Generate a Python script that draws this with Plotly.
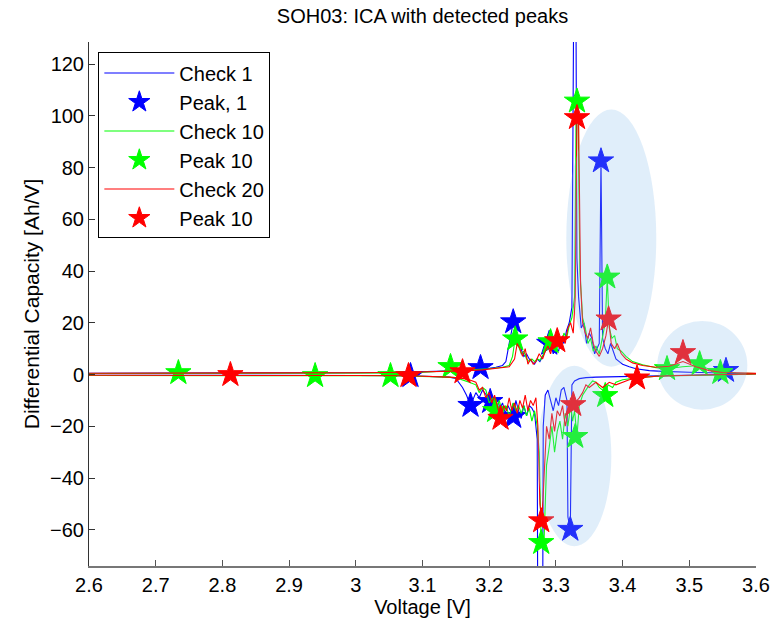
import plotly.graph_objects as go

# ---------------- data ----------------
check1_charge = [(2.60,0.5),(2.70,0.5),(2.80,0.5),(2.90,0.6),(3.00,0.7),(3.05,0.8),(3.08,0.9),(3.10,1.0),(3.12,1.2),(3.14,1.4),(3.16,1.6),(3.18,1.9),(3.19,2.1),(3.20,2.4),(3.21,2.8),(3.22,3.5),(3.225,5),(3.23,12),(3.236,20),(3.242,14),(3.248,10),(3.252,7),(3.256,8),(3.26,6),(3.264,5),(3.268,4),(3.272,6),(3.276,5),(3.28,7),(3.284,9),(3.288,11),(3.292,12),(3.296,8),(3.30,10),(3.304,9),(3.308,14),(3.312,12),(3.316,17),(3.32,20),(3.324,26),(3.3275,180),(3.3295,180),(3.3315,45),(3.334,30),(3.338,18),(3.342,20),(3.346,12),(3.35,16),(3.354,14),(3.358,8),(3.362,10),(3.365,12),(3.3676,83),(3.370,14),(3.374,10),(3.378,8),(3.382,12),(3.386,9),(3.39,6),(3.395,5),(3.40,4),(3.41,3),(3.42,2.2),(3.44,1.5),(3.46,1.2),(3.50,0.9),(3.55,0.6),(3.60,0.5)]
check1_discharge = [(3.60,0.3),(3.55,0.0),(3.50,-0.2),(3.45,-0.4),(3.42,-0.5),(3.40,-0.6),(3.38,-0.8),(3.36,-1.0),(3.345,-1.2),(3.335,-1.6),(3.328,-2.5),(3.324,-4),(3.3216,-60),(3.318,-55),(3.3166,-10),(3.312,-5),(3.308,-6),(3.304,-12),(3.30,-9),(3.296,-14),(3.292,-10),(3.288,-6),(3.284,-8),(3.281,-20),(3.279,-200),(3.274,-200),(3.272,-25),(3.268,-15),(3.264,-13),(3.26,-12),(3.256,-16),(3.252,-12),(3.248,-17),(3.244,-14),(3.24,-10),(3.236,-16),(3.232,-14),(3.228,-12),(3.224,-15),(3.22,-11),(3.216,-13),(3.212,-9),(3.208,-11),(3.2015,-10.5),(3.196,-8),(3.19,-6),(3.185,-9),(3.18,-7),(3.172,-12),(3.166,-8),(3.16,-5),(3.155,-3),(3.15,-1.5),(3.14,-1.0),(3.12,-0.8),(3.10,-0.6),(3.08,-0.5),(3.00,-0.4),(2.90,-0.3),(2.80,-0.3),(2.70,-0.3),(2.60,-0.3)]

check10_charge = [(2.60,0.4),(2.70,0.4),(2.735,0.6),(2.80,0.5),(2.90,0.5),(2.94,0.4),(3.00,0.5),(3.05,0.6),(3.10,0.9),(3.14,1.4),(3.18,1.8),(3.20,2.2),(3.22,2.8),(3.23,3.5),(3.235,7),(3.239,14),(3.244,11),(3.248,8),(3.252,9),(3.256,6),(3.26,5),(3.264,6),(3.268,5),(3.272,6),(3.276,5.5),(3.28,7),(3.284,9),(3.288,11),(3.292,12.6),(3.296,10),(3.30,9),(3.304,12),(3.308,11),(3.312,16),(3.316,14),(3.32,19),(3.324,22),(3.328,30),(3.3305,105.6),(3.333,105),(3.336,40),(3.34,22),(3.344,18),(3.348,12),(3.352,14),(3.356,9),(3.36,11),(3.365,8),(3.37,14),(3.374,20),(3.377,37.6),(3.38,18),(3.384,14),(3.388,15),(3.392,10),(3.398,9),(3.405,7),(3.415,5),(3.43,3.8),(3.45,2.6),(3.4666,2.2),(3.49,3),(3.5155,3.5),(3.53,2),(3.5466,1.0),(3.57,0.6),(3.60,0.4)]
check10_discharge = [(3.60,0.2),(3.55,-0.2),(3.50,-0.4),(3.46,-0.6),(3.43,-1.0),(3.41,-1.5),(3.40,-2),(3.39,-3),(3.385,-5),(3.378,-4),(3.374,-8.2),(3.37,-6),(3.365,-5),(3.36,-3),(3.355,-2.5),(3.35,-4),(3.345,-6),(3.34,-8),(3.335,-12),(3.3316,-24),(3.328,-14),(3.325,-18),(3.322,-12),(3.318,-20),(3.314,-15),(3.31,-25),(3.306,-18),(3.302,-22),(3.298,-30),(3.294,-20),(3.29,-28),(3.286,-35),(3.282,-66),(3.278,-66),(3.275,-30),(3.272,-20),(3.268,-14),(3.264,-18),(3.26,-13),(3.256,-16),(3.252,-12),(3.248,-15),(3.244,-12),(3.24,-14),(3.236,-11),(3.23,-16),(3.225,-12),(3.22,-15),(3.215,-10),(3.21,-14),(3.205,-9),(3.2,-11),(3.195,-6),(3.19,-5),(3.185,-7),(3.18,-4),(3.17,-3),(3.16,-2),(3.15,-1.2),(3.13,-0.9),(3.10,-0.7),(3.052,-0.5),(3.00,-0.5),(2.939,-0.5),(2.85,-0.4),(2.75,-0.4),(2.60,-0.4)]

check20_charge = [(2.60,0.5),(2.70,0.5),(2.80,0.5),(2.90,0.6),(3.00,0.7),(3.08,0.9),(3.12,1.1),(3.16,1.4),(3.19,1.8),(3.21,2.3),(3.23,3),(3.238,6),(3.242,12),(3.246,10),(3.25,7),(3.254,10),(3.258,4),(3.262,6),(3.266,4),(3.27,5),(3.275,8),(3.28,6),(3.284,9),(3.288,11),(3.292,8),(3.296,12),(3.302,13),(3.306,10),(3.31,15),(3.314,12),(3.318,18),(3.322,20),(3.326,16),(3.329,30),(3.3316,99.2),(3.334,99),(3.337,35),(3.34,20),(3.344,16),(3.348,14),(3.352,18),(3.356,12),(3.36,9),(3.365,7),(3.37,10),(3.375,15),(3.379,21.4),(3.383,12),(3.388,10),(3.392,12),(3.398,8),(3.405,6),(3.415,4.5),(3.43,3.5),(3.45,2.8),(3.47,3.2),(3.4905,5),(3.51,3),(3.53,1.5),(3.55,0.8),(3.60,0.5)]
check20_discharge = [(3.60,0.2),(3.55,0.0),(3.50,-0.3),(3.45,-0.7),(3.4216,-1.4),(3.41,-2),(3.40,-3),(3.39,-4),(3.38,-3),(3.37,-5),(3.36,-3),(3.35,-5),(3.345,-4),(3.34,-7),(3.335,-9),(3.326,-11.7),(3.322,-9),(3.318,-14),(3.314,-20),(3.31,-12),(3.306,-16),(3.302,-14),(3.298,-22),(3.294,-15),(3.29,-25),(3.286,-20),(3.282,-40),(3.279,-56.6),(3.276,-50),(3.273,-20),(3.27,-9),(3.266,-12),(3.262,-10),(3.258,-14),(3.254,-8),(3.25,-13),(3.246,-10),(3.242,-15),(3.238,-11),(3.234,-14),(3.23,-9),(3.226,-14),(3.222,-12),(3.217,-17),(3.212,-12),(3.208,-8),(3.204,-11),(3.2,-7),(3.195,-9),(3.19,-5),(3.185,-6),(3.18,-3),(3.17,-2),(3.16,-1.5),(3.14,-1.0),(3.12,-0.8),(3.079,-0.5),(3.0,-0.4),(2.9,-0.4),(2.812,-0.3),(2.7,-0.3),(2.6,-0.3)]

peaks1_x = [3.082, 3.172, 3.187, 3.2015, 3.236, 3.236, 3.29, 3.3216, 3.3676, 3.555]
peaks1_y = [-0.5, -12, 2.6, -10.5, 20.3, -16.3, 12, -59.9, 82.5, 1.5]
peaks10_x = [2.734, 2.939, 3.052, 3.142, 3.209, 3.239, 3.278, 3.292, 3.329, 3.3316, 3.374, 3.377, 3.4666, 3.5155, 3.5466]
peaks10_y = [0.65, -0.5, -0.5, 3, -14, 13.7, -65, 12.6, -24, 105.6, -8.2, 37.6, 2.2, 4.1, 0.7]
peaks20_x = [2.812, 3.079, 3.16, 3.217, 3.278, 3.302, 3.326, 3.3316, 3.379, 3.4216, 3.4905]
peaks20_y = [-0.1, -0.5, 1, -17, -56.6, 13, -11.7, 99.2, 21.4, -1.4, 8.4]

# highlighted regions (x0, x1, y0, y1)
regions = [(3.3156, 3.4505, 3.0, 102.4), (3.2721, 3.3831, -66.4, 3.35), (3.452, 3.587, -13.6, 20.7)]

series = [
    ("Check 1", "Peak, 1", "#0000ff", check1_charge, check1_discharge, peaks1_x, peaks1_y),
    ("Check 10", "Peak 10", "#00ff00", check10_charge, check10_discharge, peaks10_x, peaks10_y),
    ("Check 20", "Peak 10", "#ff0000", check20_charge, check20_discharge, peaks20_x, peaks20_y),
]

FONT = "Liberation Sans, Arial, Helvetica, sans-serif"
def f(size):
    return dict(family=FONT, size=size, color="black")

fig = go.Figure()
for i, (lname, pname, col, ch, dis, px, py) in enumerate(series):
    pts = ch + dis
    fig.add_trace(go.Scatter(x=[p[0] for p in pts], y=[p[1] for p in pts], mode="lines",
                             line=dict(color=col, width=1.1), name=lname,
                             legendgroup="l%d" % i))
    fig.add_trace(go.Scatter(x=px, y=py, mode="markers", name=pname,
                             marker=dict(symbol="star", size=19, color=col,
                                         line=dict(color=col, width=1)),
                             legendgroup="p%d" % i))

for (x0, x1, y0, y1) in regions:
    fig.add_shape(type="circle", xref="x", yref="y", x0=x0, x1=x1, y0=y0, y1=y1,
                  fillcolor="rgb(137,190,236)", opacity=0.26, line=dict(width=0),
                  layer="above")

fig.update_layout(
    width=784, height=624,
    margin=dict(l=89, r=28, t=42, b=56),
    paper_bgcolor="white", plot_bgcolor="white",
    font=f(18),
    title=dict(text="SOH03: ICA with detected peaks", xref="paper", x=0.5, xanchor="center",
               yref="container", y=0.975, yanchor="middle", font=f(20)),
    showlegend=True,
    legend=dict(x=0.014, y=0.98, xanchor="left", yanchor="top",
                bgcolor="white", bordercolor="black", borderwidth=1,
                font=f(20), tracegroupgap=0, itemwidth=70),
    xaxis=dict(range=[2.6, 3.6], tickmode="array",
               tickvals=[2.6, 2.7, 2.8, 2.9, 3.0, 3.1, 3.2, 3.3, 3.4, 3.5, 3.6],
               ticktext=["2.6", "2.7", "2.8", "2.9", "3", "3.1", "3.2", "3.3", "3.4", "3.5", "3.6"],
               tickfont=f(20),
               ticks="inside", ticklen=6, tickcolor="#555", showgrid=False, zeroline=False,
               showline=True, linecolor="#777", linewidth=2,
               title=dict(text="Voltage [V]", standoff=2, font=f(20))),
    yaxis=dict(range=[-74, 128.5], tickmode="array",
               tickvals=[-60, -40, -20, 0, 20, 40, 60, 80, 100, 120],
               tickfont=f(20),
               ticks="inside", ticklen=6, tickcolor="#333", showgrid=False, zeroline=False,
               showline=True, linecolor="#333", linewidth=1,
               title=dict(text="Differential Capacity [Ah/V]", standoff=4, font=f(21))),
)

fig.write_html("out.html")
